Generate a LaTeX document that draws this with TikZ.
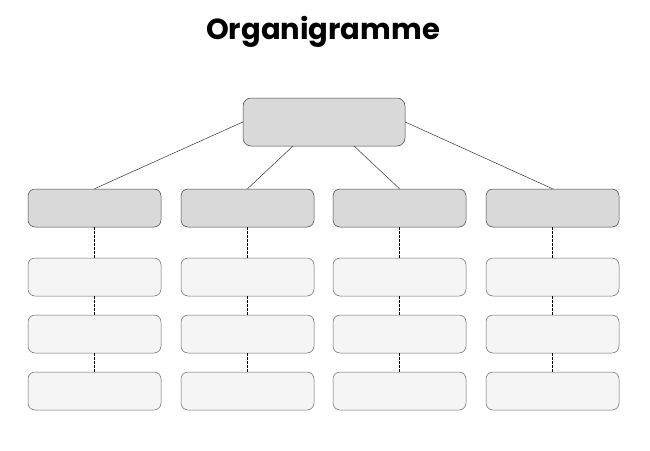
\documentclass[tikz,border=0pt]{standalone}
\usepackage{fontspec}
\setmainfont{Poppins}
\begin{document}
\begin{tikzpicture}[x=1pt,y=-1pt,
  topbox/.style={draw=black!75,line width=0.5pt,rounded corners=8pt,fill=black!15,minimum width=162pt,minimum height=48pt,inner sep=0pt},
  headbox/.style={draw=black!75,line width=0.5pt,rounded corners=7pt,fill=black!15,minimum width=133pt,minimum height=38pt,inner sep=0pt},
  subbox/.style={draw=black!60,line width=0.5pt,rounded corners=7pt,fill=black!4,minimum width=133pt,minimum height=38pt,inner sep=0pt},
  link/.style={draw=black!80,line width=0.5pt},
  dlink/.style={draw=black,line width=0.7pt,dash pattern=on 2.5pt off 1.5pt}]
\useasboundingbox (0,0) rectangle (650,450);
\node (title) at (323,32) {\fontsize{29pt}{33pt}\selectfont\bfseries Organigramme};
\node[topbox] (top) at (324,122) {};
\coordinate (tb2) at (293,146);
\coordinate (tb3) at (354,146);
\foreach \i/\x in {1/94.5,2/247.5,3/399.5,4/552.5}{
  \node[headbox] (h\i) at (\x,208) {};
  \node[subbox] (a\i) at (\x,277) {};
  \node[subbox] (b\i) at (\x,334) {};
  \node[subbox] (c\i) at (\x,391) {};
  \draw[dlink] (h\i) -- (a\i);
  \draw[dlink] (a\i) -- (b\i);
  \draw[dlink] (b\i) -- (c\i);
}
\draw[link] (top.west) -- (h1.north);
\draw[link] (tb2) -- (h2.north);
\draw[link] (tb3) -- (h3.north);
\draw[link] (top.east) -- (h4.north);
\end{tikzpicture}
\end{document}
